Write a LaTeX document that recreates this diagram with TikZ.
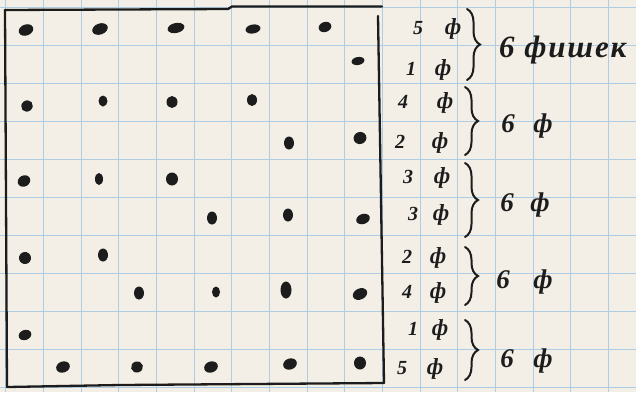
\documentclass[tikz,border=0pt]{standalone}
\usepackage{fontspec}
\setmainfont{Liberation Serif}
\usetikzlibrary{shapes.geometric,decorations.pathreplacing}
\definecolor{paper}{HTML}{F3EFE6}
\definecolor{gridblue}{HTML}{AECCE4}
\definecolor{ink}{HTML}{1C1C1C}
\tikzset{
  blob/.style n args={3}{ellipse,fill=ink,draw=none,inner sep=0pt,
    minimum width=#1pt,minimum height=#2pt,rotate=#3},
  lab/.style={anchor=base,text=ink,inner sep=0pt,
    font=\fontsize{20}{22}\selectfont\itshape\bfseries},
  flab/.style={anchor=base,text=ink,inner sep=0pt,
    font=\fontsize{23}{25}\selectfont\itshape\bfseries},
  biglab/.style={anchor=base,text=ink,inner sep=0pt,
    font=\fontsize{27}{29}\selectfont\itshape\bfseries},
  brc/.style={draw=ink,line width=2pt,line cap=round,decorate,
    decoration={brace,amplitude=13pt}},
  frame/.style={draw=ink,line width=2.3pt,line cap=round,line join=round},
  gridline/.style={draw=gridblue,line width=0.8pt},
}
\begin{document}
\begin{tikzpicture}[x=1pt,y=-1pt]
\fill[paper] (0,0) rectangle (636,392);
\useasboundingbox (0,0) rectangle (636,392);
% graph paper
\foreach \i in {0,...,16} \draw[gridline] ({5.6+37.67*\i},0) -- ({5.6+37.67*\i},392);
\foreach \j in {0,...,10} \draw[gridline] (0,{7+38*\j}) -- (636,{7+38*\j});
% frame
\coordinate (ftl) at (5,10);
\coordinate (ftm) at (228,9);
\coordinate (ftn) at (232,6.5);
\coordinate (ftr) at (382,6.5);
\coordinate (frt) at (378,16);
\coordinate (frb) at (384,383);
\coordinate (fbl) at (7,387);
\coordinate (fbm) at (120,385);
\draw[frame] (ftl) -- (ftm) -- (ftn) -- (ftr);
\draw[frame] (frt) -- (frb);
\draw[frame] (ftl) -- (fbl) -- (fbm) -- (frb);
% dots
\foreach \x/\y/\w/\h/\r [count=\n] in {
  26/30/15/11/20, 100/29/16/11/20, 176/28/17/10/12, 253/29/15/9/10, 325/27/13/10/20,
  358/61/13/8/10,
  27/106/12/11/40, 103/101/9/11/0, 172/102/11/12/0, 252/100/10/12/0,
  289/143/10/13/0, 360/138/13/12/20,
  24/181/13/11/30, 99/179/8/12/0, 172/179/12/13/0,
  212/218/10/13/0, 288/215/10/13/0, 363/219/14/10/20,
  25/258/12/12/30, 103/255/10/13/0,
  139/293/10/13/0, 216/292/8/11/0, 286/290/11/17/0, 360/294/15/11/25,
  25/335/13/10/20,
  63/367/14/11/20, 137/367/12/11/15, 211/367/14/11/20, 290/364/14/11/20, 360/363/12/13/0}
  \node[blob={\w}{\h}{\r}] (d\n) at (\x,\y) {};
% row labels
\foreach \d/\xa/\xb/\b [count=\n] in {
  5/418/453/34, 1/411/443/75, 4/403/445/108, 2/400/440/148, 3/408/442/183,
  3/413/441/220, 2/407/438/263, 4/407/438/298, 1/413/440/335, 5/402/435/374}
{
  \node[lab] (n\n) at (\xa,\b) {\d};
  \node[flab] (f\n) at (\xb,\b) {ф};
}
% braces
\coordinate (b1t) at (467,9);   \coordinate (b1b) at (467,80);
\coordinate (b2t) at (465,87);  \coordinate (b2b) at (465,155);
\coordinate (b3t) at (465,163); \coordinate (b3b) at (465,237);
\coordinate (b4t) at (465,247); \coordinate (b4b) at (465,305);
\coordinate (b5t) at (465,320); \coordinate (b5b) at (465,380);
\draw[brc] (b1t) -- (b1b);
\draw[brc] (b2t) -- (b2b);
\draw[brc] (b3t) -- (b3b);
\draw[brc] (b4t) -- (b4b);
\draw[brc] (b5t) -- (b5b);
% group totals
\node[biglab,anchor=base west,font=\fontsize{31}{33}\selectfont\itshape\bfseries\addfontfeature{LetterSpace=6}] (g1) at (499,57) {6 фишек};
\node[biglab] (g2a) at (508,132) {6};  \node[biglab] (g2b) at (543,132) {ф};
\node[biglab] (g3a) at (507,211) {6};  \node[biglab] (g3b) at (540,211) {ф};
\node[biglab] (g4a) at (503,288) {6};  \node[biglab] (g4b) at (543,288) {ф};
\node[biglab] (g5a) at (507,367) {6};  \node[biglab] (g5b) at (543,367) {ф};
\end{tikzpicture}
\end{document}
